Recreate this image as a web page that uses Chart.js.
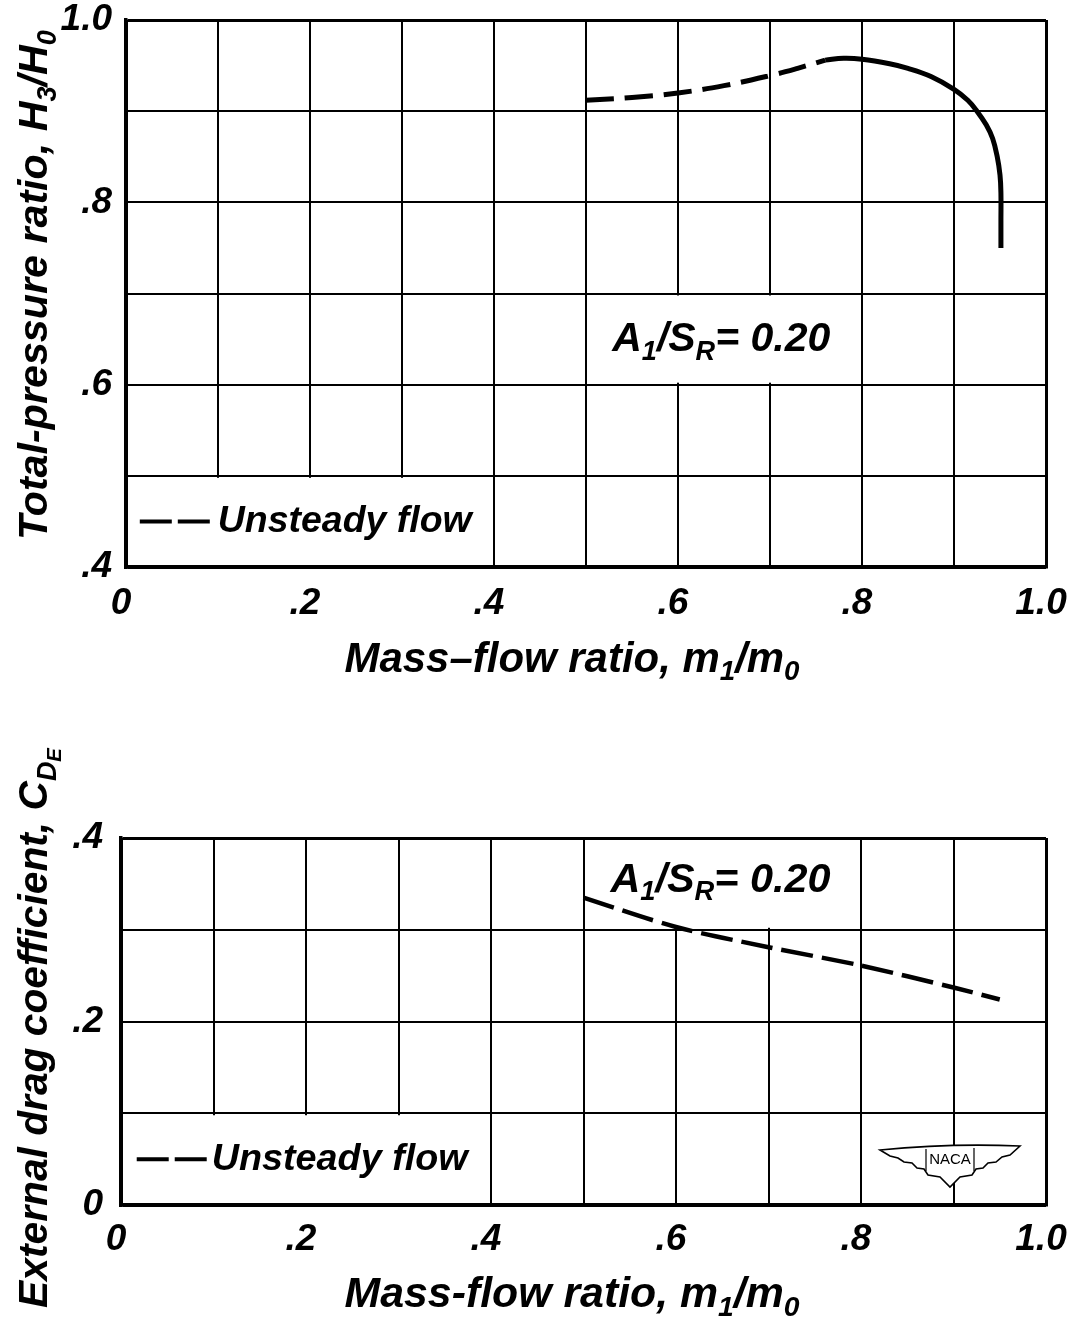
<!DOCTYPE html>
<html><head><meta charset="utf-8">
<script src="https://cdn.jsdelivr.net/npm/chart.js@4.4.1/dist/chart.umd.min.js"></script>
<style>
html,body{margin:0;padding:0;background:#fff;}
#wrap{position:relative;width:1071px;height:1320px;background:#fff;}
canvas{position:absolute;left:0;}
</style></head><body>
<div id="wrap">
<canvas id="topChart" width="1071" height="700" style="top:0"></canvas>
<canvas id="botChart" width="1071" height="620" style="top:700px"></canvas>
</div>
<script>
// ---------- data ----------
const topDashedX = [0.50, 0.55, 0.60, 0.65, 0.70, 0.73, 0.76];
const topDashedY = [0.912, 0.915, 0.920, 0.928, 0.939, 0.947, 0.956];
const topSolidX  = [0.76, 0.78, 0.80, 0.83, 0.85, 0.875, 0.90, 0.915, 0.925, 0.935, 0.942, 0.947, 0.950, 0.951, 0.951, 0.951];
const topSolidY  = [0.956, 0.958, 0.957, 0.952, 0.947, 0.938, 0.924, 0.912, 0.900, 0.885, 0.870, 0.850, 0.830, 0.810, 0.780, 0.750];
const botDashedX = [0.50, 0.60, 0.70, 0.80, 0.90, 0.95];
const botDashedY = [0.335, 0.303, 0.281, 0.261, 0.237, 0.224];

const xGrid = [0, 0.1, 0.2, 0.3, 0.4, 0.5, 0.6, 0.7, 0.8, 0.9, 1.0];
const xTickValues = [0, 0.2, 0.4, 0.6, 0.8, 1.0];
const xTickLabels = ['0', '.2', '.4', '.6', '.8', '1.0'];
const topYGrid = [0.4, 0.5, 0.6, 0.7, 0.8, 0.9, 1.0];
const topYTickValues = [0.4, 0.6, 0.8, 1.0];
const topYTickLabels = ['.4', '.6', '.8', '1.0'];
const botYGrid = [0, 0.1, 0.2, 0.3, 0.4];
const botYTickValues = [0, 0.2, 0.4];
const botYTickLabels = ['0', '.2', '.4'];

const legendLabel = 'Unsteady flow';
const annotationParts = [{t:'A'},{t:'1',sub:1},{t:'/S'},{t:'R',sub:1},{t:'= 0.20'}];

// ---------- helpers ----------
const FAM = '"Liberation Sans", Arial, sans-serif';
function labelFor(v, vals, labs){
  const i = vals.findIndex(t => Math.abs(t - v) < 1e-6);
  return i < 0 ? '' : labs[i];
}
function pts(xs, ys){ return xs.map((x, i) => ({x, y: ys[i]})); }

function drawRich(ctx, parts, x, y, target, rot, align){
  const base = 30;
  const fontAt = s => `italic bold ${s}px ${FAM}`;
  const scaleOf = p => p.sub === 2 ? 0.5 : (p.sub ? 0.66 : 1);
  function width(size){
    let w = 0;
    for (const p of parts){ ctx.font = fontAt(size*scaleOf(p)); w += ctx.measureText(p.t).width; }
    return w;
  }
  const size = target ? base*target/width(base) : base;
  const w = width(size);
  ctx.save();
  ctx.translate(x, y);
  ctx.rotate(rot || 0);
  ctx.fillStyle = '#000';
  ctx.textBaseline = 'middle';
  ctx.textAlign = 'left';
  let cx = align === 'left' ? 0 : -w/2;
  for (const p of parts){
    const s = size*scaleOf(p);
    ctx.font = fontAt(s);
    const dy = p.sub === 1 ? size*0.3 : (p.sub === 2 ? size*0.48 : 0);
    ctx.fillText(p.t, cx, dy);
    cx += ctx.measureText(p.t).width;
  }
  ctx.restore();
}

function drawLogo(ctx, cx, cy){
  ctx.save();
  ctx.translate(cx, cy);
  ctx.beginPath();
  ctx.moveTo(-70,-13);
  ctx.quadraticCurveTo(0,-20,70,-17);
  ctx.lineTo(60,-8); ctx.lineTo(52,-6); ctx.lineTo(46,-1); ctx.lineTo(38,0);
  ctx.lineTo(33,5); ctx.lineTo(26,6); ctx.lineTo(22,12); ctx.lineTo(10,14);
  ctx.lineTo(0,24);
  ctx.lineTo(-10,14); ctx.lineTo(-22,12); ctx.lineTo(-26,6); ctx.lineTo(-33,5);
  ctx.lineTo(-38,0); ctx.lineTo(-46,-1); ctx.lineTo(-52,-5); ctx.lineTo(-60,-7);
  ctx.closePath();
  ctx.fillStyle = '#fff';
  ctx.fill();
  ctx.lineWidth = 1.6;
  ctx.strokeStyle = '#000';
  ctx.stroke();
  ctx.beginPath();
  ctx.moveTo(-24,-14); ctx.lineTo(-24,8); ctx.moveTo(24,-15); ctx.lineTo(24,8);
  ctx.lineWidth = 1.2;
  ctx.stroke();
  ctx.fillStyle = '#000';
  ctx.font = `15px "Liberation Sans Narrow", ${FAM}`;
  ctx.textAlign = 'center';
  ctx.textBaseline = 'middle';
  ctx.fillText('NACA', 0, -3);
  ctx.restore();
}

function makeDecor(cfg){
  return {
    id: 'decor_' + cfg.name,
    beforeDatasetsDraw(chart){
      const {ctx} = chart;
      const xs = chart.scales.x, ys = chart.scales.y;
      ctx.save();
      ctx.fillStyle = '#fff';
      for (const r of cfg.erase){
        const x1 = xs.getPixelForValue(r[0]), x2 = xs.getPixelForValue(r[1]);
        const y1 = ys.getPixelForValue(r[3]), y2 = ys.getPixelForValue(r[2]);
        ctx.fillRect(x1+2, y1+2, x2-x1-4, y2-y1-4);
      }
      ctx.restore();
    },
    afterDraw(chart){
      const {ctx} = chart;
      const xs = chart.scales.x, ys = chart.scales.y;
      const lx = xs.getPixelForValue(cfg.legend.x), ly = ys.getPixelForValue(cfg.legend.y);
      ctx.save();
      ctx.strokeStyle = '#000';
      ctx.lineWidth = 4;
      ctx.beginPath();
      ctx.moveTo(lx, ly); ctx.lineTo(lx+32, ly);
      ctx.moveTo(lx+38, ly); ctx.lineTo(lx+70, ly);
      ctx.stroke();
      ctx.restore();
      drawRich(ctx, [{t: legendLabel}], lx + cfg.legend.textOffset, ly, cfg.legend.width, 0, 'left');
      drawRich(ctx, annotationParts, xs.getPixelForValue(cfg.note.x), ys.getPixelForValue(cfg.note.y), cfg.note.width, 0, 'center');
      drawRich(ctx, cfg.yTitle.parts, cfg.yTitle.x, cfg.yTitle.y, cfg.yTitle.width, -Math.PI/2, 'center');
      drawRich(ctx, cfg.xTitle.parts, cfg.xTitle.x, cfg.xTitle.y, cfg.xTitle.width, 0, 'center');
      if (cfg.logo) drawLogo(ctx, cfg.logo.x, cfg.logo.y);
    }
  };
}

function zeroPad(s){ s.paddingTop = 0; s.paddingBottom = 0; s.paddingLeft = 0; s.paddingRight = 0; }

function scalesFor(yGrid, yVals, yLabs, yMin, yMax, yWidth, xHeight, xPad, yPad){
  const tickFont = {family: FAM, size: 37, style: 'italic', weight: 'bold', lineHeight: 1.2};
  return {
    x: {
      type: 'linear', min: 0, max: 1,
      afterFit(s){ s.height = xHeight; zeroPad(s); },
      afterBuildTicks(s){ s.ticks = xGrid.map(v => ({value: v})); },
      ticks: {color: '#000', font: tickFont, padding: xPad, maxRotation: 0, autoSkip: false, labelOffset: -5,
              callback: v => labelFor(v, xTickValues, xTickLabels)},
      grid: {color: '#000', drawTicks: false,
             lineWidth: c => (c.tick && (Math.abs(c.tick.value) < 1e-6 || Math.abs(c.tick.value-1) < 1e-6)) ? 3 : 2},
      border: {display: true, color: '#000', width: 3.5}
    },
    y: {
      type: 'linear', min: yMin, max: yMax,
      afterFit(s){ s.width = yWidth; zeroPad(s); },
      afterBuildTicks(s){ s.ticks = yGrid.map(v => ({value: v})); },
      ticks: {color: '#000', font: tickFont, padding: yPad, autoSkip: false,
              callback: v => labelFor(v, yVals, yLabs)},
      grid: {color: '#000', drawTicks: false,
             lineWidth: c => (c.tick && (Math.abs(c.tick.value-yMin) < 1e-6 || Math.abs(c.tick.value-yMax) < 1e-6)) ? 3 : 2},
      border: {display: true, color: '#000', width: 3.5}
    }
  };
}

// ---------- top chart ----------
new Chart(document.getElementById('topChart'), {
  type: 'line',
  data: {datasets: [
    {label: 'Unsteady flow', data: pts(topDashedX, topDashedY), borderColor: '#000', borderWidth: 5,
     borderDash: [28, 11], borderCapStyle: 'butt', pointRadius: 0, tension: 0.4, fill: false},
    {label: 'Steady flow', data: pts(topSolidX, topSolidY), borderColor: '#000', borderWidth: 5,
     pointRadius: 0, tension: 0.4, fill: false}
  ]},
  options: {
    responsive: false, animation: false,
    layout: {padding: {left: 0, top: 20, right: 25, bottom: 0}},
    plugins: {legend: {display: false}, tooltip: {enabled: false}},
    scales: scalesFor(topYGrid, topYTickValues, topYTickLabels, 0.4, 1.0, 126, 133, 15, 14)
  },
  plugins: [makeDecor({
    name: 'top',
    erase: [[0, 0.4, 0.4, 0.5], [0.5, 0.8, 0.6, 0.7]],
    legend: {x: 0.015, y: 0.45, textOffset: 78, width: 254},
    note: {x: 0.647, y: 0.649, width: 218},
    yTitle: {x: 36, y: 285, width: 510, parts: [{t:'Total-pressure ratio, H'},{t:'3',sub:1},{t:'/H'},{t:'0',sub:1}]},
    xTitle: {x: 572, y: 660, width: 455, parts: [{t:'Mass\u2013flow ratio, m'},{t:'1',sub:1},{t:'/m'},{t:'0',sub:1}]}
  })]
});

// ---------- bottom chart ----------
new Chart(document.getElementById('botChart'), {
  type: 'line',
  data: {datasets: [
    {label: 'Unsteady flow', data: pts(botDashedX, botDashedY), borderColor: '#000', borderWidth: 4.5,
     borderDash: [32, 9], borderCapStyle: 'butt', pointRadius: 0, tension: 0.3, fill: false}
  ]},
  options: {
    responsive: false, animation: false,
    layout: {padding: {left: 0, top: 138, right: 25, bottom: 0}},
    plugins: {legend: {display: false}, tooltip: {enabled: false}},
    scales: scalesFor(botYGrid, botYTickValues, botYTickLabels, 0, 0.4, 121, 115, 13, 18)
  },
  plugins: [makeDecor({
    name: 'bot',
    erase: [[0, 0.4, 0, 0.1], [0.5, 0.8, 0.3, 0.4]],
    legend: {x: 0.017, y: 0.05, textOffset: 75, width: 256},
    note: {x: 0.648, y: 0.354, width: 220},
    yTitle: {x: 36, y: 328, width: 560, parts: [{t:'External drag coefficient, C'},{t:'D',sub:1},{t:'E',sub:2}]},
    xTitle: {x: 572, y: 595, width: 455, parts: [{t:'Mass-flow ratio, m'},{t:'1',sub:1},{t:'/m'},{t:'0',sub:1}]},
    logo: {x: 950, y: 463}
  })]
});
</script>
</body></html>
